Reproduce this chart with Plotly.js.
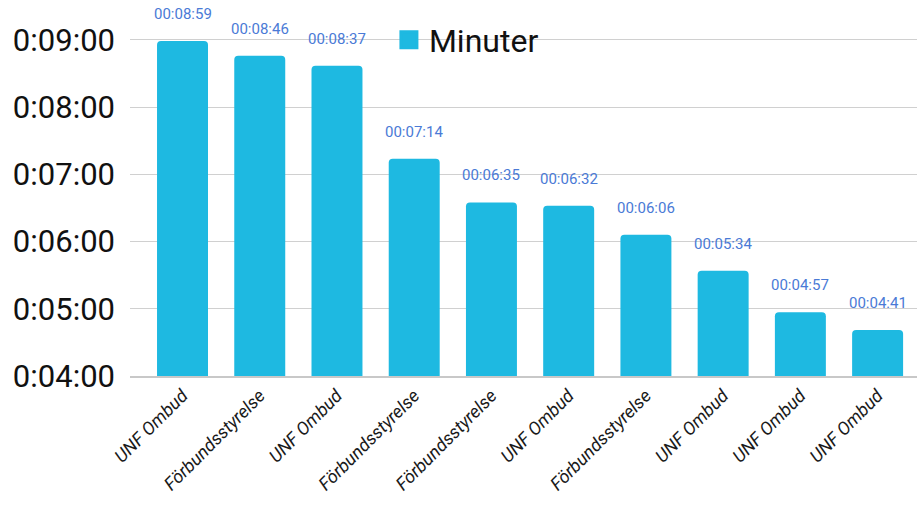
<!DOCTYPE html>
<html>
<head>
<meta charset="utf-8">
<script src="https://cdn.plot.ly/plotly-3.0.1.min.js"></script>
<style>html,body{margin:0;padding:0;background:#fff;}#chart{width:917px;height:506px;}</style>
</head>
<body>
<div id="chart"></div>
<script>
const categories = ["UNF Ombud","Förbundsstyrelse","UNF Ombud","Förbundsstyrelse","Förbundsstyrelse","UNF Ombud","Förbundsstyrelse","UNF Ombud","UNF Ombud","UNF Ombud"];
const durations = ["00:08:59","00:08:46","00:08:37","00:07:14","00:06:35","00:06:32","00:06:06","00:05:34","00:04:57","00:04:41"];
const tickMinutes = [4,5,6,7,8,9];
const tickLabels = ["0:04:00","0:05:00","0:06:00","0:07:00","0:08:00","0:09:00"];
const seriesName = "Minuter";

function toMinutes(s){const p=s.split(":").map(Number);return p[0]*60+p[1]+p[2]/60;}
const values = durations.map(toMinutes);
const xIdx = categories.map((c,i)=>i);
const barColor = "#1eb9e1";

const trace = {
  type:"bar", x:xIdx, y:values, name:seriesName, showlegend:false,
  marker:{color:barColor, cornerradius:4},
  width:0.66, hoverinfo:"none"
};
const legendTrace = {
  type:"scatter", mode:"markers", x:[null], y:[null], name:seriesName,
  marker:{symbol:"square", size:16, color:barColor, line:{color:barColor, width:3}},
  hoverinfo:"none"
};
const annotations = values.map((v,i)=>({
  x:i, y:v, xref:"x", yref:"y", text:durations[i], showarrow:false,
  yanchor:"bottom", yshift:16, font:{family:"Roboto", size:15, color:"#4a7ad6"}
}));
const layout = {
  width:917, height:506,
  margin:{l:130, r:0, t:0, b:130},
  paper_bgcolor:"#fff", plot_bgcolor:"#fff",
  showlegend:true,
  legend:{x:0.329, y:0.894, xanchor:"left", yanchor:"middle", orientation:"h",
    font:{family:"Roboto", size:32, color:"#111"}, bgcolor:"rgba(255,255,255,0)", itemwidth:30},
  xaxis:{range:[-0.68,9.51], tickmode:"array", tickvals:xIdx, ticktext:categories,
    tickangle:-45, tickfont:{family:"Roboto", size:18, color:"#1a1a1a", style:"italic"},
    showgrid:false, showline:true, linecolor:"#c8c8c8", linewidth:2, ticks:""},
  yaxis:{range:[4,9.595], tickmode:"array", tickvals:tickMinutes, ticktext:tickLabels,
    tickfont:{family:"Roboto", size:31, color:"#111"}, showgrid:true, gridcolor:"#d0d0d0",
    gridwidth:1, zeroline:false, ticks:"", ticklabelstandoff:14},
  annotations:annotations,
  bargap:0.34
};
Plotly.newPlot("chart",[trace, legendTrace],layout,{displayModeBar:false,staticPlot:true});
</script>
</body>
</html>
